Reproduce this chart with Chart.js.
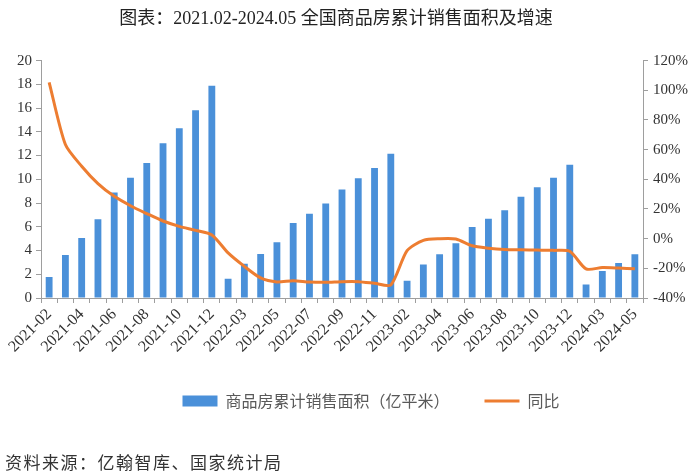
<!DOCTYPE html>
<html><head><meta charset="utf-8">
<script src="https://cdn.jsdelivr.net/npm/chart.js@4/dist/chart.umd.min.js"></script>
<style>
html,body{margin:0;padding:0;background:#fff;}
#wrap{position:relative;width:700px;height:473px;}
#source{position:absolute;left:5px;top:449px;font:17px 'Noto Sans CJK SC';color:#333;letter-spacing:1.5px;white-space:nowrap;}
</style></head><body>
<div id="wrap"><canvas id="c" width="700" height="473"></canvas><div id="source">资料来源：亿翰智库、国家统计局</div></div>
<script>
const categories = [
  '2021-02','2021-03','2021-04','2021-05','2021-06','2021-07','2021-08','2021-09','2021-10','2021-11','2021-12',
  '2022-02','2022-03','2022-04','2022-05','2022-06','2022-07','2022-08','2022-09','2022-10','2022-11','2022-12',
  '2023-02','2023-03','2023-04','2023-05','2023-06','2023-07','2023-08','2023-09','2023-10','2023-11','2023-12',
  '2024-02','2024-03','2024-04','2024-05'
];
const tickLabels = ['2021-02','2021-04','2021-06','2021-08','2021-10','2021-12','2022-03','2022-05','2022-07','2022-09','2022-11',
  '2023-02','2023-04','2023-06','2023-08','2023-10','2023-12','2024-03','2024-05'];
const salesArea = [
  1.77, 3.62, 5.06, 6.63, 8.88, 10.14, 11.38, 13.03, 14.30, 15.81, 17.89,
  1.63, 2.89, 3.71, 4.69, 6.32, 7.10, 7.97, 9.15, 10.08, 10.95, 12.16,
  1.46, 2.83, 3.69, 4.62, 5.99, 6.67, 7.40, 8.54, 9.33, 10.13, 11.23,
  1.13, 2.27, 2.95, 3.69
];
const yoy = [
  105.4, 63.4, 48.8, 37.1, 28.5, 22.2, 16.9, 11.9, 8.3, 5.6, 2.5,
  -9.6, -18.7, -26.5, -29.2, -28.3, -29.2, -29.4, -29.0, -29.0, -30.1, -31.2,
  -8.1, -1.1, 0.0, -0.2, -4.8, -6.4, -7.3, -7.5, -7.7, -7.9, -8.5,
  -20.4, -19.5, -19.8, -20.3
];
const seriesNames = ['商品房累计销售面积（亿平米）', '同比'];
const titleText = '图表：2021.02-2024.05 全国商品房累计销售面积及增速';

const BLUE = '#4A90D9', ORANGE = '#ED7D31', AXIS = '#9E9E9E', TXT = '#333333';
const serif = "'Liberation Serif', 'Noto Sans CJK SC'";

const shiftPlugin = {
  id: 'shift',
  afterLayout(chart) {
    if (chart.titleBlock) { chart.titleBlock.left -= 14; chart.titleBlock.right -= 14; }
    if (chart.legend) { chart.legend.left += 21; chart.legend.right += 21; }
  }
};

new Chart(document.getElementById('c'), {
  data: {
    labels: categories,
    datasets: [
      { type: 'bar', label: seriesNames[0], data: salesArea, yAxisID: 'y', backgroundColor: BLUE,
        barPercentage: 0.42, categoryPercentage: 1, order: 2 },
      { type: 'line', label: seriesNames[1], data: yoy, yAxisID: 'y1', borderColor: ORANGE, backgroundColor: ORANGE,
        borderWidth: 3, pointRadius: 0, tension: 0.25, order: 1 }
    ]
  },
  options: {
    responsive: false, animation: false,
    layout: { padding: { top: 0, left: 0, right: 0, bottom: 54 } },
    plugins: {
      title: { display: true, text: titleText, color: '#222',
        font: { family: serif, size: 18, weight: 'normal' }, padding: { top: 8, bottom: 31 } },
      legend: { position: 'bottom',
        labels: { usePointStyle: true, pointStyleWidth: 35, boxHeight: 11, padding: 35, color: '#595959',
          font: { family: "'Noto Sans CJK SC'", size: 16 },
          sort: (a, b) => a.datasetIndex - b.datasetIndex,
          generateLabels(chart) {
            const items = Chart.defaults.plugins.legend.labels.generateLabels(chart);
            items.forEach(it => {
              if (it.datasetIndex === 0) { it.pointStyle = 'rect'; it.lineWidth = 0; it.fillStyle = BLUE; }
              else { it.pointStyle = 'line'; it.lineWidth = 3; it.strokeStyle = ORANGE; }
            });
            return items;
          } } },
      tooltip: { enabled: false }
    },
    scales: {
      x: { offset: true,
        grid: { offset: true, drawOnChartArea: false, drawTicks: true, tickLength: 5, color: AXIS },
        border: { display: true, color: AXIS },
        ticks: { autoSkip: false, minRotation: 45, maxRotation: 45, padding: 2, color: TXT,
          font: { family: serif, size: 16 },
          callback(v, i) { const l = categories[i]; return tickLabels.includes(l) ? l : ''; } },
        afterFit(s) { s.height = 60; } },
      y: { position: 'left', min: 0, max: 20,
        grid: { drawOnChartArea: false, drawTicks: true, tickLength: 5, color: AXIS },
        border: { display: true, color: AXIS },
        ticks: { stepSize: 2, padding: 4, color: TXT, font: { family: serif, size: 15 } },
        afterFit(s) { s.width = 41; } },
      y1: { position: 'right', min: -40, max: 120,
        grid: { drawOnChartArea: false, drawTicks: true, tickLength: 5, color: AXIS },
        border: { display: true, color: AXIS },
        ticks: { stepSize: 20, padding: 5, color: TXT, font: { family: serif, size: 15 },
          callback: v => v + '%' },
        afterFit(s) { s.width = 57; } }
    }
  },
  plugins: [shiftPlugin]
});
</script>
</body></html>
